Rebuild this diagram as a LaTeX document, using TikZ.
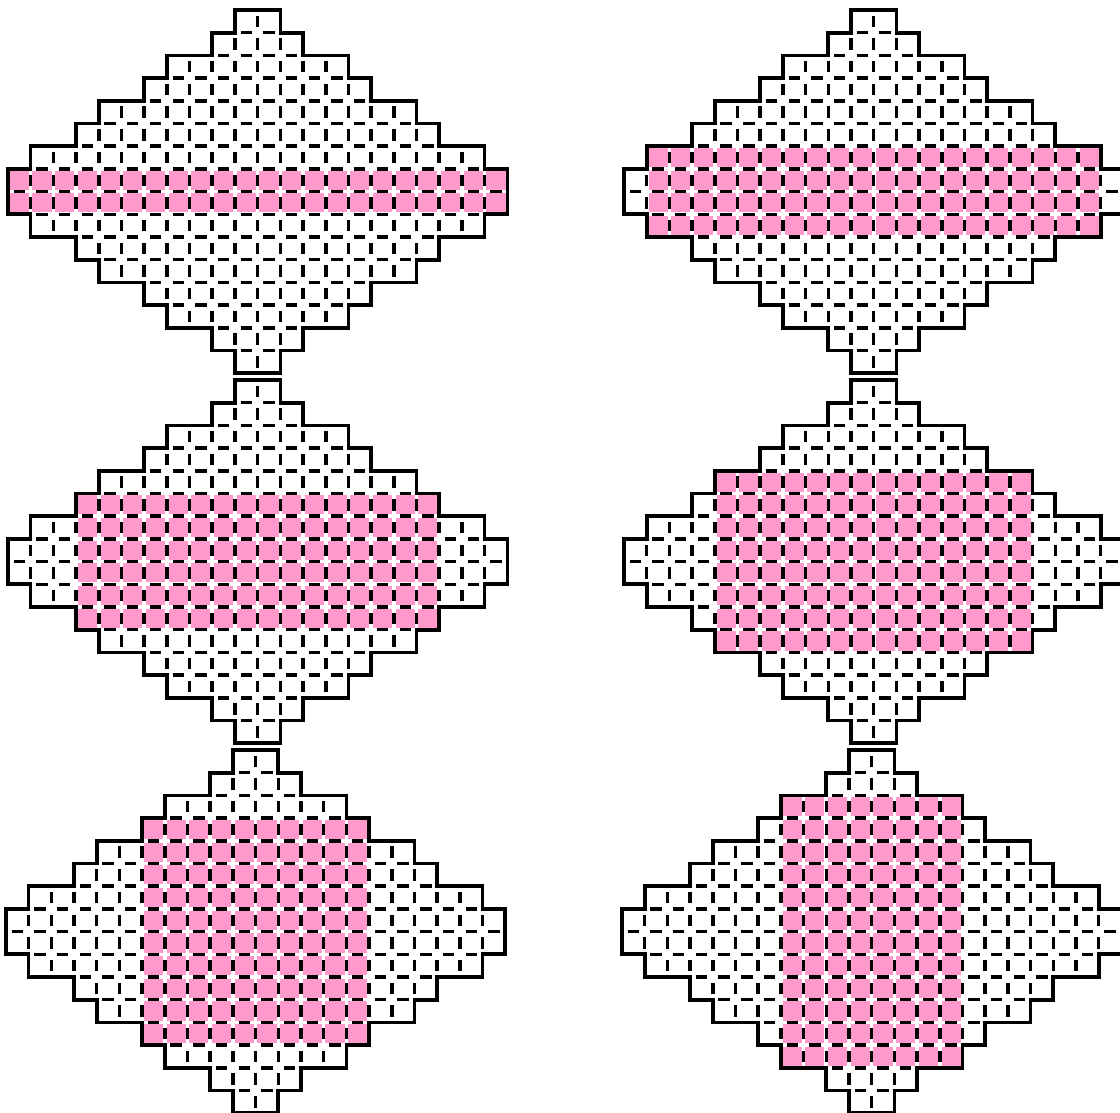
\documentclass[tikz,border=0pt]{standalone}
\usetikzlibrary{calc}
\definecolor{cellpink}{RGB}{255,153,204}

\tikzset{
  pinkcell/.style={fill=cellpink, draw=white, line width=4.5pt},
  cellgrid/.style={draw=black, line width=4.4pt, dash pattern=on 0.5cm off 0.5cm, dash phase=0.75cm},
  rim/.style={draw=black, line width=4.6pt, line join=miter}
}

% row offsets of one stepped diamond, top row first
\newcommand{\rowoffsets}{0/10,1/9,2/7,3/6,4/4,5/3,6/1,7/0,8/0,9/1,10/3,11/4,12/6,13/7,14/9,15/10}
% offsets of the inner horizontal lines (below row r)
\newcommand{\lineoffsets}{0/10,1/9,2/7,3/6,4/4,5/3,6/1,7/0,8/1,9/3,10/4,11/6,12/7,13/9,14/10}

% outline of one diamond (22 x 16 cells)
\newcommand{\diamondrim}{(10,16) -- (12,16) -- (12,15) -- (13,15) -- (13,14) -- (15,14) -- (15,13)
  -- (16,13) -- (16,12) -- (18,12) -- (18,11) -- (19,11) -- (19,10) -- (21,10) -- (21,9)
  -- (22,9) -- (22,7) -- (21,7) -- (21,6) -- (19,6) -- (19,5) -- (18,5) -- (18,4) -- (16,4)
  -- (16,3) -- (15,3) -- (15,2) -- (13,2) -- (13,1) -- (12,1) -- (12,0) -- (10,0) -- (10,1)
  -- (9,1) -- (9,2) -- (7,2) -- (7,3) -- (6,3) -- (6,4) -- (4,4) -- (4,5) -- (3,5) -- (3,6)
  -- (1,6) -- (1,7) -- (0,7) -- (0,9) -- (1,9) -- (1,10) -- (3,10) -- (3,11) -- (4,11)
  -- (4,12) -- (6,12) -- (6,13) -- (7,13) -- (7,14) -- (9,14) -- (9,15) -- (10,15) -- cycle}

% #1 shift, #2-#3 pink columns, #4-#5 pink rows (counted from the top)
\newcommand{\stepdiamond}[5]{%
  \begin{scope}[shift={#1}]
    \foreach \c in {#2,...,#3}
      \foreach \r in {#4,...,#5}
        \path[pinkcell] (\c,15-\r) rectangle +(1,1);
    % inner lines, dashed
    \foreach \r/\m in \lineoffsets
      \draw[cellgrid] (\m,15-\r) -- (22-\m,15-\r);
    \foreach \r/\o in \rowoffsets {
      \pgfmathtruncatemacro{\firstx}{\o+1}
      \pgfmathtruncatemacro{\lastx}{21-\o}
      \foreach \x in {\firstx,...,\lastx}
        \draw[cellgrid] (\x,15-\r) -- (\x,16-\r);
    }
    \draw[rim] \diamondrim;
  \end{scope}}

\begin{document}
\begin{tikzpicture}
  \useasboundingbox (0,0) rectangle (49.34,49.03);
  \clip (0,0) rectangle (49.34,49.03);

  \stepdiamond{(0.35,32.59)}{0}{21}{7}{8}
  \stepdiamond{(27.49,32.59)}{1}{20}{6}{9}

  \stepdiamond{(0.35,16.29)}{3}{18}{5}{10}
  \stepdiamond{(27.49,16.29)}{4}{17}{4}{11}

  \stepdiamond{(0.26,-0.01)}{6}{15}{3}{12}
  \stepdiamond{(27.40,-0.01)}{7}{14}{2}{13}
\end{tikzpicture}
\end{document}
